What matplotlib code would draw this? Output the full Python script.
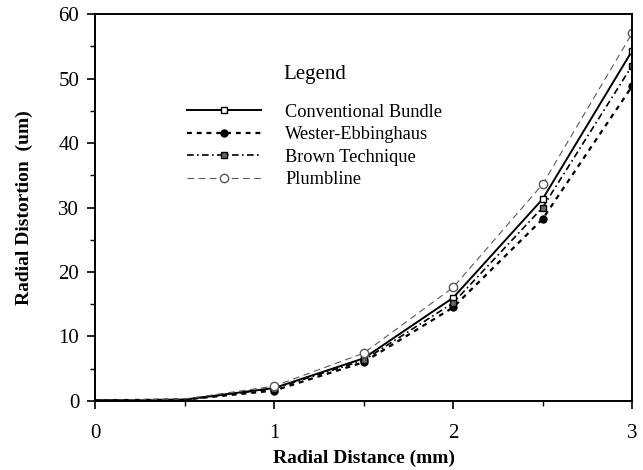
import matplotlib
matplotlib.use("Agg")
import matplotlib.pyplot as plt
from matplotlib.ticker import MultipleLocator

plt.rcParams['font.family'] = ['Liberation Serif', 'DejaVu Serif']

radial_mm = [0, 0.5, 1, 1.5, 2, 2.5, 3]
conventional = [0.1, 0.2, 2.0, 6.6, 16.0, 31.3, 54.3]
wester = [0.1, 0.2, 1.6, 6.0, 14.5, 28.2, 48.8]
brown = [0.1, 0.2, 1.9, 6.3, 15.2, 30.0, 52.0]
plumbline = [0.1, 0.3, 2.3, 7.4, 17.6, 33.6, 57.0]

fig = plt.figure(figsize=(6.43, 4.70), dpi=100)
ax = fig.add_axes([0.148, 0.147, 0.835, 0.823])

mk = slice(2, None)
ax.plot(radial_mm, conventional, color='black', lw=1.4, ls='-',
        marker='s', mfc='white', mec='black', ms=5, markevery=mk,
        label='Conventional Bundle')
ax.plot(radial_mm, wester, color='black', lw=1.6, ls=(0, (2.2, 2.2)),
        marker='o', mfc='black', mec='black', ms=5, markevery=mk,
        label='Wester-Ebbinghaus')
ax.plot(radial_mm, brown, color='black', lw=1.2, ls=(0, (4, 2, 1, 2)),
        marker='s', mfc='0.4', mec='black', ms=5, markevery=mk,
        label='Brown Technique')
ax.plot(radial_mm, plumbline, color='0.35', lw=0.8, ls=(0, (6, 4)),
        marker='o', mfc='white', mec='0.35', ms=6, markevery=mk,
        label='Plumbline')

ax.set_xlim(0, 3)
ax.set_ylim(0, 60)
ax.xaxis.set_major_locator(MultipleLocator(1))
ax.xaxis.set_minor_locator(MultipleLocator(0.5))
ax.yaxis.set_major_locator(MultipleLocator(10))
ax.yaxis.set_minor_locator(MultipleLocator(5))
ax.tick_params(which='major', direction='out', length=5.5, width=1.2, labelsize=15)
ax.tick_params(which='minor', direction='out', length=3.5, width=1)
ax.tick_params(axis='x', which='major', pad=11)
ax.tick_params(axis='y', which='major', pad=6)
for s in ax.spines.values():
    s.set_linewidth(1.4)

ax.set_xlabel('Radial Distance (mm)', fontsize=14, fontweight='bold', labelpad=5)
ax.set_ylabel('Radial Distortion  (um)', fontsize=14, fontweight='bold', labelpad=18)

leg = ax.legend(loc='upper left', bbox_to_anchor=(0.141, 0.91), frameon=False,
                title='Legend', title_fontsize=15, fontsize=13.2,
                handlelength=4.0, handletextpad=1.35, labelspacing=0.3)
leg._legend_box.sep = 14

fig.savefig('out.png', dpi=100)
